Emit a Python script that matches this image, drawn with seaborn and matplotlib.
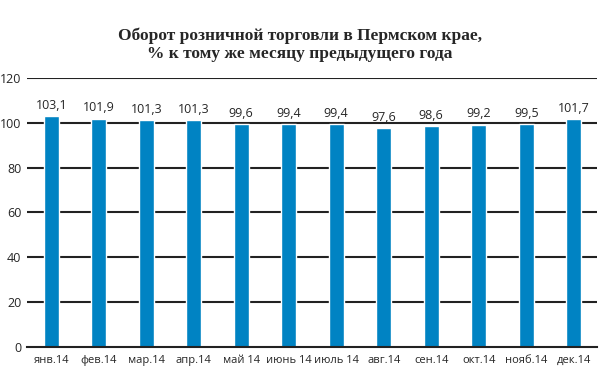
import pandas as pd
import numpy as np
import matplotlib
matplotlib.use('Agg')
import matplotlib.pyplot as plt
import seaborn as sns

months = ['янв.14', 'фев.14', 'мар.14', 'апр.14', 'май 14', 'июнь 14',
          'июль 14', 'авг.14', 'сен.14', 'окт.14', 'нояб.14', 'дек.14']
values = [103.1, 101.9, 101.3, 101.3, 99.6, 99.4, 99.4, 97.6, 98.6, 99.2, 99.5, 101.7]

df = pd.DataFrame({'Месяц': months, 'Оборот': values})

sns.set_style('white')
plt.rcParams['font.family'] = ['Open Sans', 'DejaVu Sans']

fig = plt.figure(figsize=(6, 3.89), dpi=100)
ax = fig.add_axes([0.0458, 0.108, 0.95, 0.6915])

sns.barplot(data=df, x='Месяц', y='Оборот', color='#0083c3', width=0.32,
            saturation=1, ax=ax, zorder=3)

ax.set_ylim(0, 120)
ax.set_yticks(range(0, 121, 20))
ax.set_xlim(-0.5, len(months) - 0.5)
for y in range(20, 121, 20):
    ax.axhline(y, color='#222222', lw=1.5, zorder=2)

for s in ['top', 'right', 'left']:
    ax.spines[s].set_visible(False)
ax.spines['bottom'].set_color('#222222')
ax.spines['bottom'].set_linewidth(1.5)
ax.spines['bottom'].set_zorder(4)

# ticks between categories
ax.set_xticks(np.arange(-0.5, len(months) + 0.5, 1), minor=True)
ax.tick_params(axis='x', which='minor', length=3, width=1, color='#222222', direction='out')
ax.tick_params(axis='x', which='major', length=0, labelsize=8, pad=6)
ax.tick_params(axis='y', length=3, width=1, color='#222222', labelsize=9, pad=1.5)
ax.set_xlabel('')
ax.set_ylabel('')

for p, v in zip(ax.patches, values):
    ax.annotate(f'{v:.1f}'.replace('.', ','),
                (p.get_x() + p.get_width() / 2, p.get_height()),
                xytext=(0, 3), textcoords='offset points',
                ha='center', va='bottom', fontsize=9)

fig.text(0.5, 0.885, 'Оборот розничной торговли в Пермском крае,\n% к тому же месяцу предыдущего года',
         ha='center', va='center', fontsize=12.5, fontweight='bold',
         family='Liberation Serif', linespacing=1.1)

fig.savefig('out.png', dpi=100)
